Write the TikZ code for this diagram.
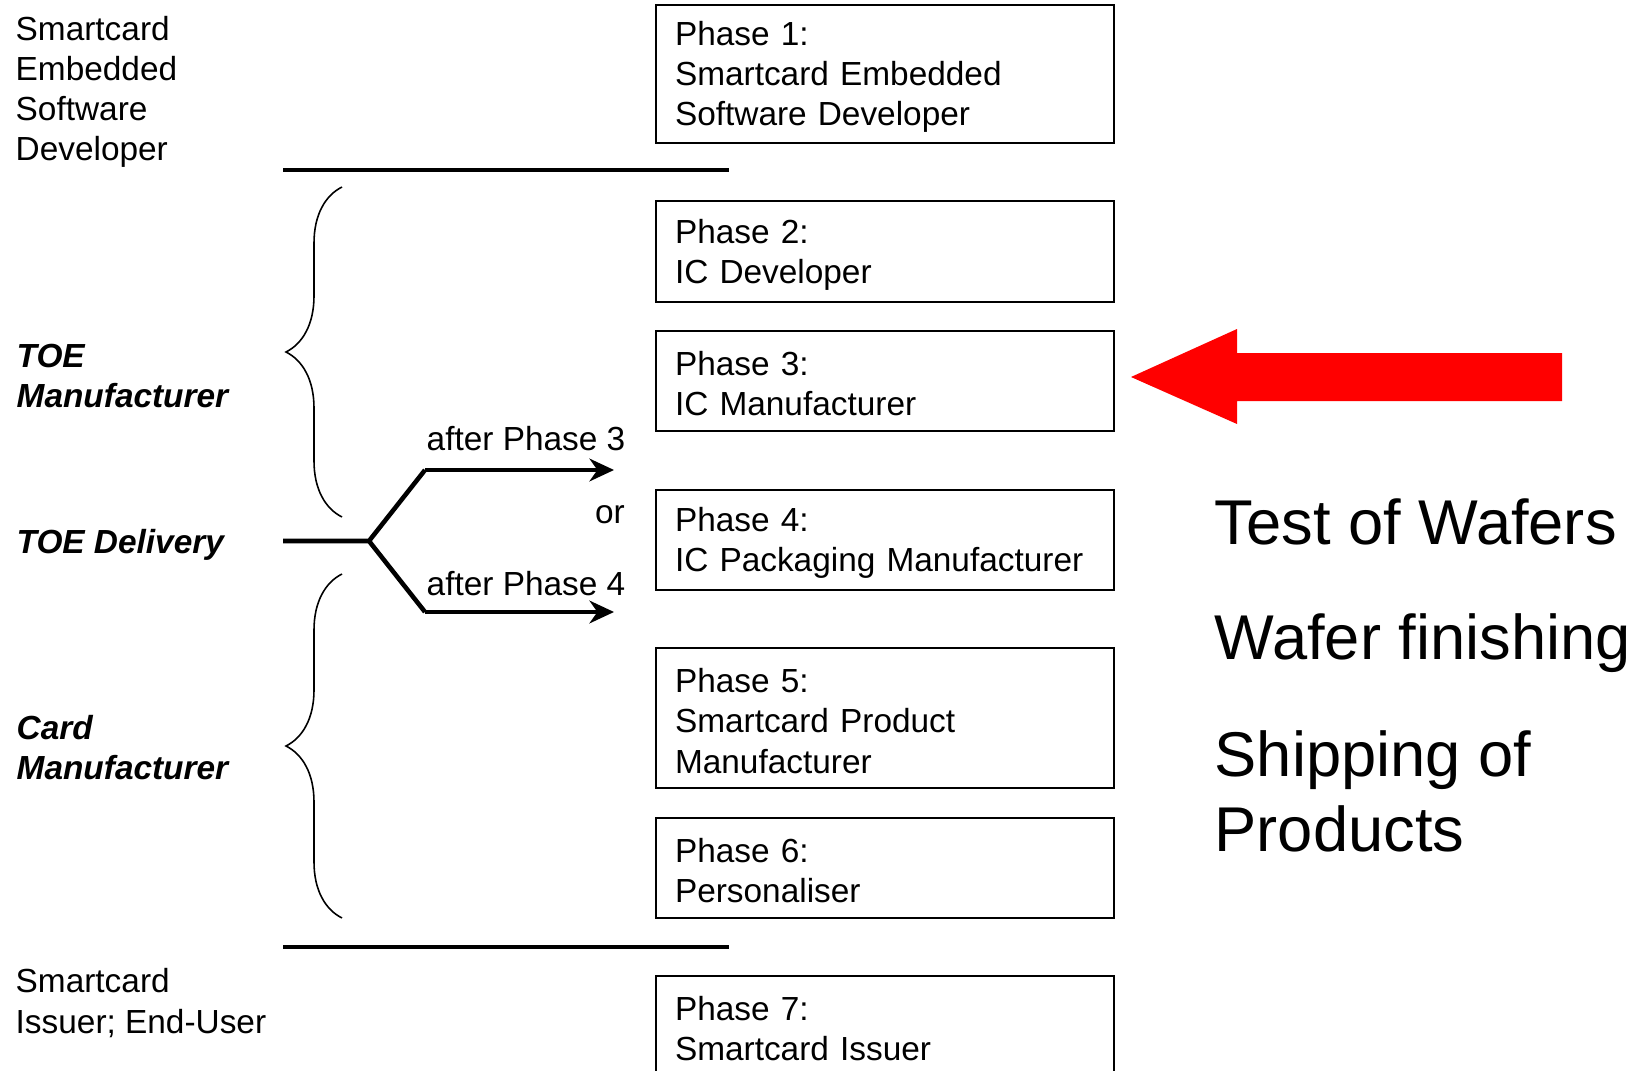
\documentclass[tikz,border=0pt]{standalone}
\usepackage{fontspec}
\setmainfont{Liberation Sans}
\usepackage{tikz}
\usetikzlibrary{arrows.meta, decorations.pathreplacing}
\tikzset{
>={Stealth[length=7pt,width=6.5pt]},
  phasebox/.style={
    rectangle,
    draw=black, line width=0.6pt,
    minimum width=4.58cm,
    text width=4.20cm,
    inner xsep=0.19cm, inner ysep=0pt,
    align=left,
    execute at begin node={\rule{0pt}{8.6pt}},
    font=\fontsize{9.5}{11.4}\selectfont},
  role/.style={anchor=west, inner sep=0pt, align=left,
    font=\fontsize{9.5}{11.4}\selectfont},
  actor/.style={role, font=\fontsize{9.5}{11.4}\selectfont\bfseries\itshape},
  small/.style={inner sep=0pt, font=\fontsize{9.5}{11.4}\selectfont},
  big/.style={anchor=west, inner sep=0pt, align=left,
    font=\fontsize{18}{21.3}\selectfont},
  sepline/.style={draw, line width=1.4pt},
  fork/.style={draw, line width=1.3pt},
  branch/.style={draw, line width=0.9pt, ->},
  decoration={brace, amplitude=0.56cm},
  tuborg/.style={decorate, line width=0.45pt},
  hint/.style={fill=red},
}

\begin{document}
\begin{tikzpicture}
\useasboundingbox (0,0) rectangle (16.48,-10.71);
\clip (0,0) rectangle (16.48,-10.71);
% phases
\foreach \n/\y/\h/\txt in {1/-0.74/1.38/{Phase 1:\\Smartcard Embedded\\Software Developer},
                           2/-2.515/1.01/{Phase 2:\\IC Developer},
                           3/-3.81/1.00/{Phase 3:\\IC Manufacturer},
                           4/-5.40/1.00/{Phase 4:\\IC Packaging Manufacturer},
                           5/-7.18/1.40/{Phase 5:\\Smartcard Product\\Manufacturer},
                           6/-8.68/1.00/{Phase 6:\\Personaliser},
                           7/-10.26/1.00/{Phase 7:\\Smartcard Issuer}}{
    \node[phasebox, minimum height=\h cm] (p\n) at (8.85,\y) {\txt};
    }
% roles on the left
\node[role] (dev) at (0.15,-0.92) {Smartcard\\Embedded\\Software\\Developer};
\node[actor] (toeman) at (0.16,-3.76) {TOE\\Manufacturer};
\node[actor] (toedel) at (0.16,-5.45) {TOE Delivery};
\node[actor] (cardman) at (0.16,-7.48) {Card\\Manufacturer};
\node[role] (user) at (0.15,-10.03) {Smartcard\\Issuer; End-User};
\path[sepline] (2.83,-1.70) -- (7.29,-1.70);
\path[sepline] (2.83,-9.47) -- (7.29,-9.47);
\draw[tuborg] (3.42,-5.17) -- (3.42,-1.87);
\draw[tuborg] (3.42,-9.18) -- (3.42,-5.74);
% delivery fork
\coordinate (start) at (2.83,-5.41);
\coordinate (split) at (3.69,-5.41);
\coordinate (up) at (4.25,-4.70);
\coordinate (down) at (4.25,-6.12);
\coordinate (aft3) at (6.14,-4.70);
\coordinate (aft4) at (6.14,-6.12);
\path[fork] (start) -- (split) -- (up);
\path[fork] (split) -- (down);
\path[branch] (up) -- (aft3);
\path[branch] (down) -- (aft4);
\node[small, anchor=west] (l3) at (4.26,-4.39) {after Phase 3};
\node[small] (lor) at (6.10,-5.15) {or};
\node[small, anchor=west] (l4) at (4.26,-5.84) {after Phase 4};
% red hint
\coordinate (redtip) at (11.31,-3.77);
\fill[hint] (redtip) -- ++(1.06,0.48) -- ++(0,-0.24) -- ++(3.25,0) -- ++(0,-0.48)
  -- ++(-3.25,0) -- ++(0,-0.23) -- cycle;
\node[big] (t1) at (12.14,-5.22) {Test of Wafers};
\node[big] (t2) at (12.14,-6.43) {Wafer finishing};
\node[big] (t3) at (12.14,-7.91) {Shipping of\\Products};
\end{tikzpicture}
\end{document}
